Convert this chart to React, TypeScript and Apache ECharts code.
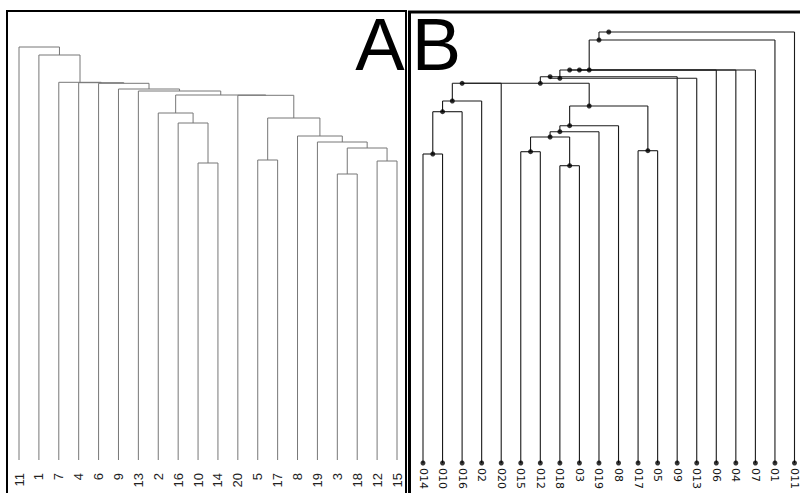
import React, { useEffect, useRef } from "react";
import * as echarts from "echarts";

// ---- Panel A (hclust style, node x = midpoint of children) ----
const labelsA = ["11", "1", "7", "4", "6", "9", "13", "2", "16", "10", "14", "20", "5", "17", "8", "19", "3", "18", "12", "15"];
// merge rows: negative = leaf position (1-based), positive = earlier merge row (1-based)
const mergesA: [number, number][] = [
  [-10, -11], [-13, -14], [-17, -18], [-19, -20], [3, 4], [-16, 5], [-15, 6], [2, 7],
  [-9, 1], [-8, 9], [-12, 8], [10, 11], [-7, 12], [-6, 13], [-5, 14], [-4, 15],
  [-3, 16], [-2, 17], [-1, 18],
];
const heightsA = [
  2.97, 3.0, 2.86, 2.99, 3.12, 3.18, 3.24, 3.42,
  3.37, 3.47, 3.647, 3.65, 3.69, 3.71, 3.767, 3.773,
  3.777, 4.05, 4.13,
];

// ---- Panel B (phylogram style, node x = mean of descendant leaves) ----
const labelsB = ["014", "010", "016", "02", "020", "015", "012", "018", "03", "019", "08", "017", "05", "09", "013", "06", "04", "07", "01", "011"];
const mergesB: [number, number][] = [
  [-1, -2], [1, -3], [2, -4], [3, -5], [-6, -7], [-8, -9], [5, 6], [7, -10],
  [8, -11], [-12, -13], [9, 10], [4, 11], [12, -14], [13, -15], [14, -16], [15, -17],
  [16, -18], [17, -19], [18, -20],
];
const heightsB = [
  3.09, 3.513, 3.62, 3.797, 3.113, 2.973, 3.26, 3.313,
  3.373, 3.123, 3.57, 3.797, 3.863, 3.847, 3.93, 3.93,
  3.93, 4.23, 4.31,
];

type Node = { x: number; h: number; leaves: number[] };

function build(merges: [number, number][], heights: number[], mode: "mid" | "mean") {
  const nodes: Node[] = [];
  const segs: number[][] = [];
  merges.forEach(([a, b], i) => {
    const h = heights[i];
    const ch = [a, b].map((c) => (c < 0 ? { x: -c, h: 0, leaves: [-c] } : nodes[c - 1]));
    const leaves = ch[0].leaves.concat(ch[1].leaves);
    const x =
      mode === "mid"
        ? (ch[0].x + ch[1].x) / 2
        : leaves.reduce((s, v) => s + v, 0) / leaves.length;
    segs.push([ch[0].x, h, ch[1].x, h]);
    ch.forEach((c) => segs.push([c.x, c.h, c.x, h]));
    nodes.push({ x, h, leaves });
  });
  return { segs, nodes };
}

function segRenderer(color: string, width: number) {
  return (params: any, api: any) => {
    const p1 = api.coord([api.value(0), api.value(1)]);
    const p2 = api.coord([api.value(2), api.value(3)]);
    return {
      type: "line",
      shape: { x1: p1[0], y1: p1[1], x2: p2[0], y2: p2[1] },
      style: { stroke: color, lineWidth: width },
    };
  };
}

export default function App() {
  const ref = useRef<HTMLDivElement>(null);
  useEffect(() => {
    if (!ref.current) return;
    const chart = echarts.init(ref.current, null, { renderer: "svg" });
    const A = build(mergesA, heightsA, "mid");
    const B = build(mergesB, heightsB, "mean");
    const dotsB = B.nodes.map((n) => [n.x, n.h]).concat(labelsB.map((_, i) => [i + 1, 0]));

    const hidden = {
      axisLine: { show: false },
      axisTick: { show: false },
      splitLine: { show: false },
    };

    chart.setOption({
      animation: false,
      backgroundColor: "#fff",
      grid: [
        { left: 19, width: 378, top: 40, height: 420 },
        { left: 423, width: 374, top: 23, height: 440 },
      ],
      xAxis: [
        {
          gridIndex: 0,
          type: "value",
          min: 1,
          max: 20,
          interval: 1,
          ...hidden,
          axisLabel: {
            rotate: 90,
            margin: 13,
            fontSize: 13,
            fontFamily: "Liberation Sans",
            color: "#222",
            showMinLabel: true,
            showMaxLabel: true,
            formatter: (v: number) => labelsA[Math.round(v) - 1] || "",
          },
        },
        {
          gridIndex: 1,
          type: "value",
          min: 1,
          max: 20,
          interval: 1,
          ...hidden,
          axisLabel: {
            rotate: -90,
            margin: 5,
            fontSize: 11,
            fontFamily: "DejaVu Sans",
            color: "#111",
            showMinLabel: true,
            showMaxLabel: true,
            formatter: (v: number) => labelsB[Math.round(v) - 1] || "",
          },
        },
      ],
      yAxis: [
        { gridIndex: 0, type: "value", min: 0, max: 4.2, show: false },
        { gridIndex: 1, type: "value", min: 0, max: 4.4, show: false },
      ],
      series: [
        {
          type: "custom",
          xAxisIndex: 0,
          yAxisIndex: 0,
          clip: false,
          silent: true,
          data: A.segs,
          renderItem: segRenderer("#777", 1),
        },
        {
          type: "custom",
          xAxisIndex: 1,
          yAxisIndex: 1,
          clip: false,
          silent: true,
          data: B.segs,
          renderItem: segRenderer("#1a1a1a", 1.1),
        },
        {
          type: "scatter",
          xAxisIndex: 1,
          yAxisIndex: 1,
          silent: true,
          symbol: "circle",
          symbolSize: 5,
          itemStyle: { color: "#000" },
          data: dotsB,
        },
      ],
      graphic: [
        {
          type: "rect",
          shape: { x: 7, y: 11, width: 399, height: 500 },
          style: { fill: "none", stroke: "#000", lineWidth: 2 },
          z: 10,
        },
        {
          type: "rect",
          shape: { x: 409.5, y: 12, width: 420, height: 500 },
          style: { fill: "none", stroke: "#000", lineWidth: 3 },
          z: 10,
        },
        {
          type: "text",
          x: 380,
          y: 44,
          z: 10,
          style: {
            text: "A",
            font: '74px "Liberation Sans"',
            fill: "#000",
            textAlign: "center",
            textVerticalAlign: "middle",
            align: "center",
            verticalAlign: "middle",
          },
        },
        {
          type: "text",
          x: 436.5,
          y: 44,
          z: 10,
          style: {
            text: "B",
            font: '74px "Liberation Sans"',
            fill: "#000",
            textAlign: "center",
            textVerticalAlign: "middle",
            align: "center",
            verticalAlign: "middle",
          },
        },
      ],
    });
    return () => chart.dispose();
  }, []);

  return (
    <div
      ref={ref}
      style={{ position: "absolute", left: 0, top: 0, width: 800, height: 493, overflow: "hidden" }}
    />
  );
}
